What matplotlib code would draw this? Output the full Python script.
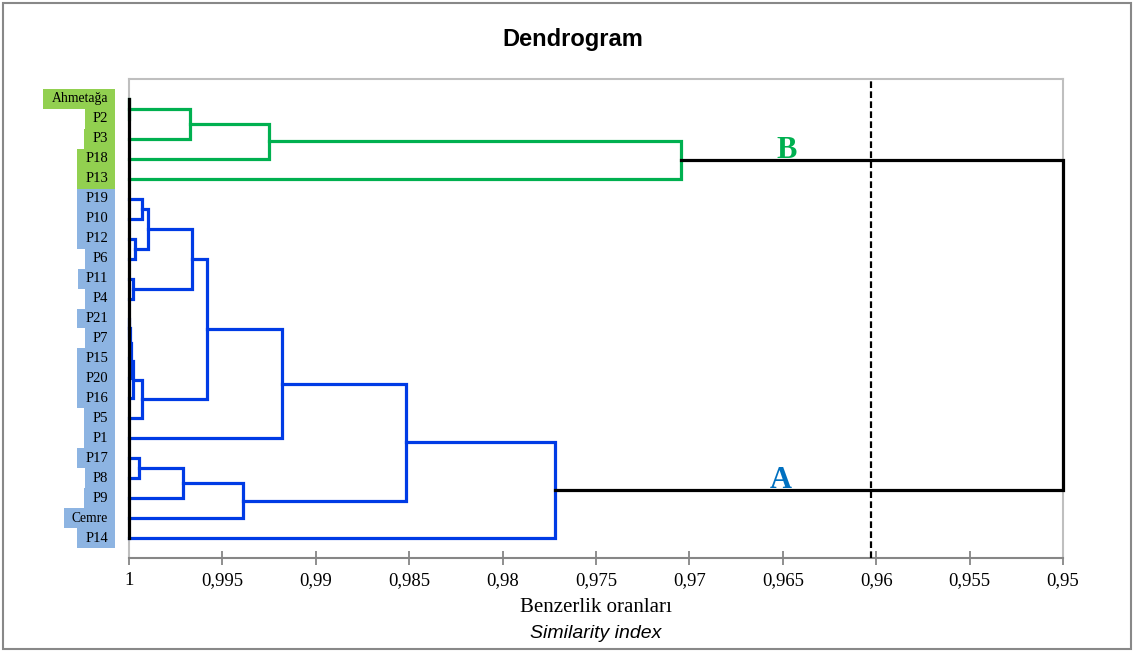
import matplotlib
matplotlib.use("Agg")
import matplotlib.pyplot as plt
from matplotlib.patches import Rectangle

plt.rcParams['font.family'] = 'Liberation Serif'

# leaves, top to bottom
leaves = ['Ahmetağa', 'P2', 'P3', 'P18', 'P13', 'P19', 'P10', 'P12', 'P6',
          'P11', 'P4', 'P21', 'P7', 'P15', 'P20', 'P16', 'P5', 'P1', 'P17',
          'P8', 'P9', 'Cemre', 'P14']
leaf_group = ['B'] * 5 + ['A'] * 18

# merges (scipy style: new cluster ids start at len(leaves))
merge_left = [0, 23, 24, 25, 5, 7, 27, 9, 29, 11, 32, 33, 34, 35, 31, 37,
              18, 39, 40, 38, 42, 26]
merge_right = [1, 2, 3, 4, 6, 8, 28, 10, 30, 12, 13, 14, 15, 16, 36, 17,
               19, 20, 21, 41, 22, 43]
merge_sim = [1.0, 0.99673, 0.99251, 0.97045, 0.99930, 0.99968, 0.99898,
             0.99979, 0.99663, 1.0, 0.99995, 0.99989, 0.99979, 0.99930,
             0.99582, 0.99181, 0.99946, 0.99711, 0.99390, 0.98517, 0.97719,
             0.95]

xticks = [1, 0.995, 0.99, 0.985, 0.98, 0.975, 0.97, 0.965, 0.96, 0.955, 0.95]
xtick_labels = ['1', '0,995', '0,99', '0,985', '0,98', '0,975', '0,97',
                '0,965', '0,96', '0,955', '0,95']
cut_level = 0.9603

line_colors = {'A': '#003BE5', 'B': '#00B050'}
box_colors = {'A': '#8DB4E2', 'B': '#92D050'}
letter_colors = {'A': '#0070C0', 'B': '#00B050'}

fig = plt.figure(figsize=(11.34, 6.52), dpi=100)
ax = fig.add_axes([129 / 1134, 1 - 558 / 652, 934 / 1134, 479 / 652])

n = len(leaves)
pos_y = list(range(n))
pos_x = [1.0] * n
members = [[i] for i in range(n)]
group_node = {}
for l, r, s in zip(merge_left, merge_right, merge_sim):
    grp = set(leaf_group[m] for m in members[l] + members[r])
    if len(grp) == 1:
        g = grp.pop()
        c = line_colors[g]
        group_node[g] = len(pos_y)
    else:
        c = 'black'
    ax.plot([pos_x[l], s, s, pos_x[r]], [pos_y[l], pos_y[l], pos_y[r], pos_y[r]],
            color=c, lw=2.3, zorder=3, solid_joinstyle='miter', clip_on=False)
    pos_y.append((pos_y[l] + pos_y[r]) / 2)
    pos_x.append(s)
    members.append(members[l] + members[r])

ax.plot([1, 1], [0, n - 1], color='black', lw=2.3, zorder=4, clip_on=False)
ax.axvline(cut_level, color='black', lw=1.6, linestyle=(0, (3, 1.5)), zorder=4)

for g in ['A', 'B']:
    node = group_node[g]
    xl = 0.9651 if g == 'A' else 0.9648
    ax.text(xl, pos_y[node] - 0.1, g, color=letter_colors[g], fontsize=22,
            fontweight='bold', ha='center', va='baseline', zorder=5)

ax.set_xlim(1, 0.95)
ax.set_ylim(n, -1)
ax.set_yticks([])
ax.set_xticks(xticks, xtick_labels)
ax.tick_params(axis='x', direction='inout', length=10, width=1.3,
               color='#868686', labelsize=13.5, pad=5)
for side in ['top', 'right', 'left']:
    ax.spines[side].set_color('#BFBFBF')
    ax.spines[side].set_linewidth(1.5)
ax.spines['bottom'].set_color('#868686')
ax.spines['bottom'].set_linewidth(1.5)

# leaf labels with coloured boxes
texts = []
for i, name in enumerate(leaves):
    fs = 9.8 if len(name) > 4 else 10.5
    t = ax.text(-0.0225, i, name, transform=ax.get_yaxis_transform(),
                ha='right', va='center', fontsize=fs, clip_on=False, zorder=5)
    texts.append(t)

fig.canvas.draw()
r = fig.canvas.get_renderer()
box_right = (115 - 129) / 934
for i, t in enumerate(texts):
    bb = t.get_window_extent(r)
    x_left = ax.transAxes.inverted().transform((bb.x0 - 8, 0))[0]
    ax.add_patch(Rectangle((x_left, i - 0.5), box_right - x_left, 1.0,
                           transform=ax.get_yaxis_transform(), clip_on=False,
                           facecolor=box_colors[leaf_group[i]], edgecolor='none',
                           zorder=1))

fig.text(0.5053, 0.9387, 'Dendrogram', ha='center', va='center', fontsize=17,
         fontweight='bold', family='Liberation Sans')
fig.text(596 / 1134, 1 - 607 / 652, 'Benzerlik oranları', ha='center',
         va='center', fontsize=15)
fig.text(596 / 1134, 1 - 634 / 652, 'Similarity index', ha='center',
         va='center', fontsize=14, style='italic', family='Liberation Sans')

fig.patches.append(Rectangle((3 / 1134, 3 / 652), 1128 / 1134, 646 / 652,
                             transform=fig.transFigure, fill=False,
                             edgecolor='#888888', lw=1.5))

fig.savefig('out.png', dpi=100)
